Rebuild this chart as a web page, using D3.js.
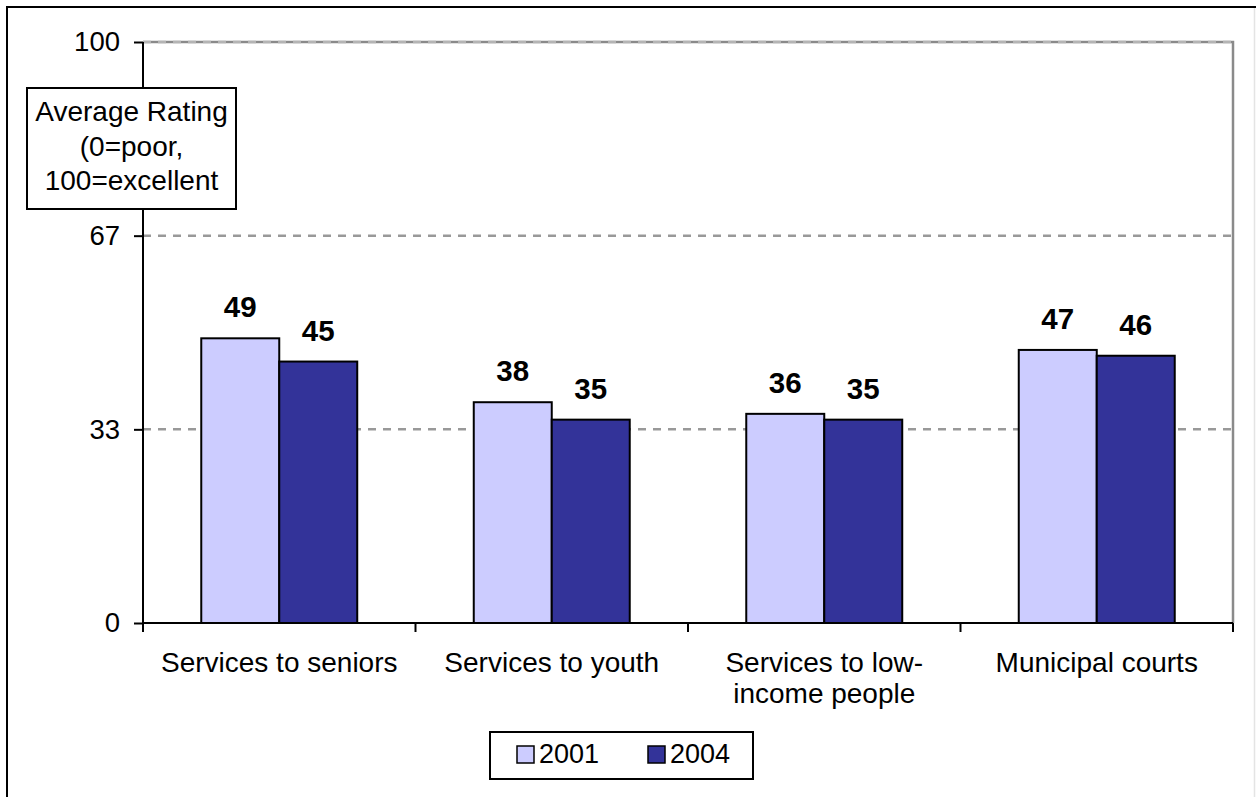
<!DOCTYPE html>
<html>
<head>
<meta charset="utf-8">
<script src="https://cdnjs.cloudflare.com/ajax/libs/d3/7.8.5/d3.min.js"></script>
<style>
  html, body { margin: 0; padding: 0; background: #fff; }
  svg { display: block; font-family: Arial, "Liberation Sans", sans-serif; }
</style>
</head>
<body>
<svg id="chart" width="1256" height="797"></svg>
<script>
// Ratings by service area, two survey years
const categories = [["Services to seniors"], ["Services to youth"], ["Services to low-", "income people"], ["Municipal courts"]];
const seriesNames = ["2001", "2004"];
const values2001 = [49, 38, 36, 47];
const values2004 = [45, 35, 35, 46];
const tickValues = [0, 100 / 3, 200 / 3, 100];
const tickLabels = ["0", "33", "67", "100"];
const axisTitle = ["Average Rating", "(0=poor,", "100=excellent"];

const colors = { "2001": "#CCCCFF", "2004": "#333399" };

const svg = d3.select("#chart");
const W = 1256, H = 797;
const plot = { left: 143, right: 1233, top: 42, bottom: 623 };

// outer frame
svg.append("rect").attr("x", 0).attr("y", 0).attr("width", W).attr("height", H).attr("fill", "#fff");
svg.append("path")
  .attr("d", `M7,${H} L7,7 L${W},7`)
  .attr("fill", "none").attr("stroke", "#000").attr("stroke-width", 2);
svg.append("line")
  .attr("x1", W - 1.5).attr("x2", W - 1.5).attr("y1", 8).attr("y2", H)
  .attr("stroke", "#e4e4e4").attr("stroke-width", 1.5);

const catKeys = categories.map(c => c.join(" "));
const x0 = d3.scaleBand().domain(catKeys).range([plot.left, plot.right]).paddingInner(0).paddingOuter(0);
const x1 = d3.scaleBand().domain(seriesNames).range([0, x0.bandwidth()]).paddingInner(0).paddingOuter(0.747);
const y = d3.scaleLinear().domain([0, 100]).range([plot.bottom, plot.top]);

// plot area border (top and right)
svg.append("path")
  .attr("d", `M${plot.left},${plot.top} L${plot.right},${plot.top} L${plot.right},${plot.bottom}`)
  .attr("fill", "none").attr("stroke", "#8a8a8a").attr("stroke-width", 2.5);

// dashed gridlines
svg.append("g").selectAll("line")
  .data(tickValues.filter(v => v > 0))
  .join("line")
  .attr("x1", plot.left).attr("x2", plot.right)
  .attr("y1", d => y(d)).attr("y2", d => y(d))
  .attr("stroke", d => d === 100 ? "#b4b4b4" : "#999")
  .attr("stroke-width", 2.5)
  .attr("stroke-dasharray", "8,7");

// bars
const data = catKeys.map((k, i) => ({ key: k, values: [
  { s: "2001", v: values2001[i] },
  { s: "2004", v: values2004[i] }
]}));

const groups = svg.append("g").selectAll("g")
  .data(data).join("g")
  .attr("transform", d => `translate(${x0(d.key)},0)`);

groups.selectAll("rect")
  .data(d => d.values).join("rect")
  .attr("x", d => x1(d.s))
  .attr("y", d => y(d.v))
  .attr("width", x1.bandwidth())
  .attr("height", d => y(0) - y(d.v))
  .attr("fill", d => colors[d.s])
  .attr("stroke", "#000").attr("stroke-width", 2);

groups.selectAll("text")
  .data(d => d.values).join("text")
  .attr("x", d => x1(d.s) + x1.bandwidth() / 2)
  .attr("y", d => y(d.v) - 21)
  .attr("text-anchor", "middle")
  .attr("font-size", 29.5).attr("font-weight", "bold").attr("fill", "#000")
  .text(d => d.v);

// y axis
const yAxis = d3.axisLeft(y).tickValues(tickValues).tickFormat((d, i) => tickLabels[i]).tickSize(9).tickPadding(14);
const gy = svg.append("g").attr("transform", `translate(${plot.left},0)`).call(yAxis);
gy.select(".domain").remove();
gy.selectAll(".tick line").attr("stroke", "#000").attr("stroke-width", 2);
gy.selectAll(".tick text").attr("font-size", 27.5).attr("fill", "#000").attr("font-family", "Arial, 'Liberation Sans', sans-serif");
svg.append("line")
  .attr("x1", plot.left).attr("x2", plot.left)
  .attr("y1", plot.top).attr("y2", plot.bottom + 9)
  .attr("stroke", "#000").attr("stroke-width", 2);

// x axis
svg.append("line")
  .attr("x1", plot.left).attr("x2", plot.right)
  .attr("y1", plot.bottom).attr("y2", plot.bottom)
  .attr("stroke", "#000").attr("stroke-width", 2);
const boundaries = catKeys.map(k => x0(k)).concat([plot.right]);
svg.append("g").selectAll("line")
  .data(boundaries).join("line")
  .attr("x1", d => d).attr("x2", d => d)
  .attr("y1", plot.bottom).attr("y2", plot.bottom + 9)
  .attr("stroke", "#000").attr("stroke-width", 2);

const catLabels = svg.append("g").selectAll("text")
  .data(categories).join("text")
  .attr("x", (d, i) => x0(catKeys[i]) + x0.bandwidth() / 2)
  .attr("y", 672)
  .attr("text-anchor", "middle")
  .attr("font-size", 28).attr("fill", "#000");
catLabels.selectAll("tspan")
  .data(d => d).join("tspan")
  .attr("x", function () { return d3.select(this.parentNode).attr("x"); })
  .attr("dy", (d, i) => i === 0 ? 0 : 31)
  .text(d => d);

// axis title box
const tb = svg.append("g");
tb.append("rect")
  .attr("x", 27).attr("y", 88).attr("width", 209).attr("height", 121)
  .attr("fill", "#fff").attr("stroke", "#000").attr("stroke-width", 2);
tb.selectAll("text")
  .data(axisTitle).join("text")
  .attr("x", 131.5)
  .attr("y", (d, i) => 121 + i * 34.5)
  .attr("text-anchor", "middle")
  .attr("font-size", 28).attr("fill", "#000")
  .text(d => d);

// legend
const lg = svg.append("g");
lg.append("rect")
  .attr("x", 490).attr("y", 732).attr("width", 263).attr("height", 47)
  .attr("fill", "#fff").attr("stroke", "#000").attr("stroke-width", 2);
const legendX = [517, 648];
seriesNames.forEach((s, i) => {
  lg.append("rect")
    .attr("x", legendX[i]).attr("y", 746).attr("width", 17).attr("height", 17)
    .attr("fill", colors[s]).attr("stroke", "#000").attr("stroke-width", 1.5);
  lg.append("text")
    .attr("x", legendX[i] + 22).attr("y", 763)
    .attr("font-size", 27).attr("fill", "#000")
    .text(s);
});
</script>
</body>
</html>
